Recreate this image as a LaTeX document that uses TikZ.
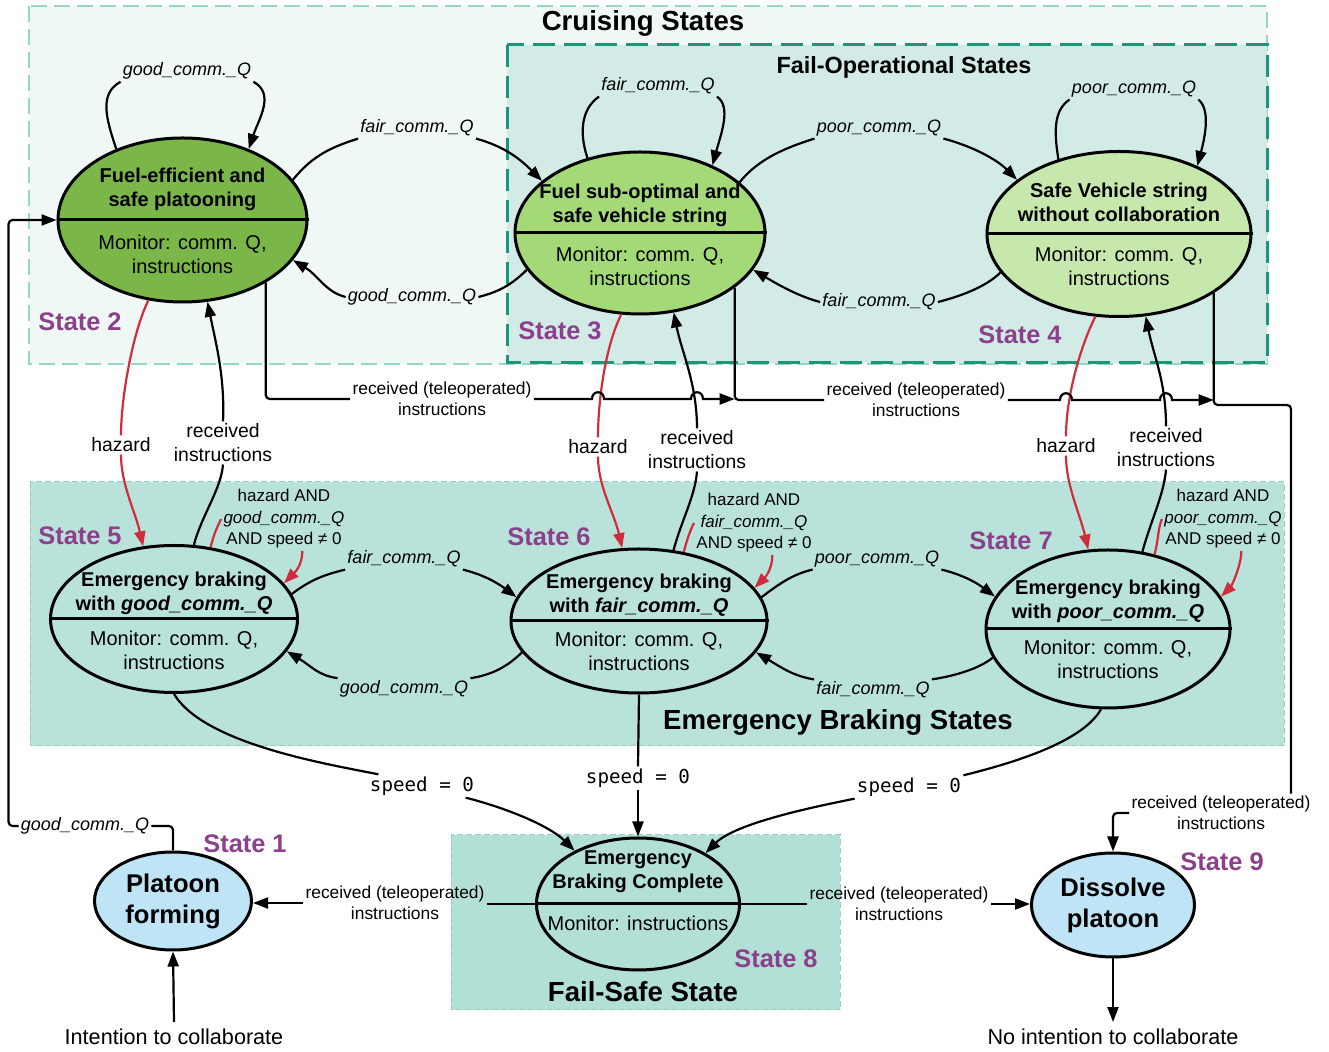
\documentclass[tikz,border=0pt]{standalone}
\usepackage{fontspec}
\setmainfont{Liberation Sans}
\newfontfamily\spdfont{DejaVu Sans Mono}
\usetikzlibrary{shapes,arrows,positioning,calc,arrows.meta}

\definecolor{cruisefill}{RGB}{239,248,245}
\definecolor{cruisedraw}{RGB}{150,214,200}
\definecolor{fopfill}{RGB}{210,235,230}
\definecolor{fopdraw}{RGB}{28,150,120}
\definecolor{ebfill}{RGB}{185,226,218}
\definecolor{ebdraw}{RGB}{150,208,196}
\definecolor{fsfill}{RGB}{179,224,214}
\definecolor{grA}{RGB}{122,182,72}
\definecolor{grB}{RGB}{163,217,119}
\definecolor{grC}{RGB}{199,232,172}
\definecolor{bluA}{RGB}{190,228,246}
\definecolor{hzred}{RGB}{208,45,60}
\definecolor{stpurple}{RGB}{140,64,140}

\begin{document}
\begin{tikzpicture}[x=0.5pt, y=-0.5pt,
	arr/.style={-{Triangle[length=7.5pt,width=5.5pt]},line width=1.1pt},
	line/.style={line width=1.1pt},
	harr/.style={arr,draw=hzred},
	bus/.style={line,rounded corners=2pt},
	divl/.style={line width=1.5pt},
	state/.style={ellipse,draw=black,line width=1.5pt,inner sep=0pt},
	uptxt/.style={font=\fontsize{10}{12}\selectfont\bfseries,align=center,inner sep=0pt},
	lowtxt/.style={font=\fontsize{10}{12}\selectfont,align=center,inner sep=0pt},
	bigst/.style={font=\fontsize{12.8}{15.5}\selectfont\bfseries,align=center},
	comm/.style={font=\fontsize{9}{11}\selectfont\itshape,inner sep=1pt},
	tele/.style={font=\fontsize{8.7}{10.5}\selectfont,align=center,inner sep=1pt},
	recv/.style={font=\fontsize{9.7}{12}\selectfont,align=center,inner sep=1pt},
	cond/.style={font=\fontsize{8.5}{10.75}\selectfont,align=center,inner sep=1pt},
	spd/.style={font=\spdfont\fontsize{9.6}{11}\selectfont,inner sep=1pt},
	stnum/.style={font=\fontsize{12.7}{14}\selectfont\bfseries,text=stpurple},
	zonettl/.style={font=\fontsize{13.8}{16}\selectfont\bfseries},
	bigtxt/.style={font=\fontsize{10.8}{13}\selectfont}]

    \useasboundingbox (0,0) rectangle (1329,1052);

    \draw [fill=cruisefill, draw=cruisedraw, line width=0.7pt, dash pattern=on 8pt off 3.5pt] (29,6) rectangle (1267,364);
    \draw [fill=fopfill, draw=fopdraw, line width=1.5pt, dash pattern=on 11pt off 4.5pt] (507,45) rectangle (1267,363);
    \draw [fill=ebfill, draw=ebdraw, line width=0.5pt, dash pattern=on 3pt off 1.5pt] (30,482) rectangle (1284,746);
    \draw [fill=fsfill, draw=ebdraw, line width=0.5pt, dash pattern=on 3pt off 1.5pt] (451,835) rectangle (840,1010);

    \node (ttlcru) at (643,23) [zonettl] {Cruising States};
    \node (ttlfop) at (904,67) [font=\fontsize{11.7}{14}\selectfont\bfseries] {Fail-Operational States};
    \node (ttleb) at (838,722) [zonettl] {Emergency Braking States};
    \node (ttlfs) at (643,992) [zonettl] {Fail-Safe State};

    \node (s2) at (182.5,220) [state, fill=grA, minimum width=124.5pt, minimum height=82pt] {};
    \draw [divl] (s2.west) -- (s2.east);
    \node (s2up) at (s2.center) [uptxt, yshift=15.5pt] {Fuel-efficient and\\safe platooning};
    \node (s2lo) at (s2.center) [lowtxt, yshift=-17pt] {Monitor: comm. Q,\\instructions};

    \node (s3) at (640,233) [state, fill=grB, minimum width=125pt, minimum height=81pt] {};
    \draw [divl] (s3.west) -- (s3.east);
    \node (s3up) at (s3.center) [uptxt, yshift=13.75pt] {Fuel sub-optimal and\\safe vehicle string};
    \node (s3lo) at (s3.center) [lowtxt, yshift=-16.75pt] {Monitor: comm. Q,\\instructions};

    \node (s4) at (1119,234) [state, fill=grC, minimum width=132pt, minimum height=82.5pt] {};
    \draw [divl] (s4.west) -- (s4.east);
    \node (s4up) at (s4.center) [uptxt, yshift=15.75pt] {Safe Vehicle string\\without collaboration};
    \node (s4lo) at (s4.center) [lowtxt, yshift=-16.25pt] {Monitor: comm. Q,\\instructions};

    \node (s5) at (174,619) [state, minimum width=123.5pt, minimum height=73.5pt] {};
    \draw [divl] (s5.west) -- (s5.east);
    \node (s5up) at (s5.center) [uptxt, yshift=13pt] {Emergency braking\\with \textit{good\_comm.\_Q}};
    \node (s5lo) at (s5.center) [lowtxt, yshift=-15.5pt] {Monitor: comm. Q,\\instructions};

    \node (s6) at (639,621) [state, minimum width=128pt, minimum height=72pt] {};
    \draw [divl] (s6.west) -- (s6.east);
    \node (s6up) at (s6.center) [uptxt, yshift=13pt] {Emergency braking\\with \textit{fair\_comm.\_Q}};
    \node (s6lo) at (s6.center) [lowtxt, yshift=-15pt] {Monitor: comm. Q,\\instructions};

    \node (s7) at (1108,629) [state, minimum width=122pt, minimum height=79pt] {};
    \draw [divl] (s7.west) -- (s7.east);
    \node (s7up) at (s7.center) [uptxt, yshift=14pt] {Emergency braking\\with \textit{poor\_comm.\_Q}};
    \node (s7lo) at (s7.center) [lowtxt, yshift=-15.25pt] {Monitor: comm. Q,\\instructions};

    \node (s8) at (638,904) [state, minimum width=101.5pt, minimum height=66pt] {};
    \draw [divl] (s8.west) -- (s8.east);
    \node (s8up) at (s8.center) [uptxt, yshift=16pt] {Emergency\\Braking Complete};
    \node (s8lo) at (s8.center) [lowtxt, yshift=-9.5pt] {Monitor: instructions};

    \node (s1) at (173,901) [state, fill=bluA, minimum width=78.5pt, minimum height=49pt, bigst] {Platoon\\forming};
    \node (s9) at (1113,905) [state, fill=bluA, minimum width=81.5pt, minimum height=52pt, bigst] {Dissolve\\platoon};

    \node (n1) at (245,844) [stnum] {State 1};
    \node (n2) at (80,322) [stnum] {State 2};
    \node (n3) at (560,331) [stnum] {State 3};
    \node (n4) at (1020,335) [stnum] {State 4};
    \node (n5) at (80,536) [stnum] {State 5};
    \node (n6) at (549,537) [stnum] {State 6};
    \node (n7) at (1011,541) [stnum] {State 7};
    \node (n8) at (776,959) [stnum] {State 8};
    \node (n9) at (1222,862) [stnum] {State 9};

    \node (l22) at (187,71) [comm] {good\_comm.\_Q};
    \node (l33) at (658,86) [comm] {fair\_comm.\_Q};
    \node (l44) at (1134,89) [comm] {poor\_comm.\_Q};
    \node (l23) at (417,128) [comm] {fair\_comm.\_Q};
    \node (l32) at (412,297) [comm] {good\_comm.\_Q};
    \node (l34) at (879,128) [comm] {poor\_comm.\_Q};
    \node (l43) at (879,302) [comm] {fair\_comm.\_Q};
    \node (l56) at (404,559) [comm] {fair\_comm.\_Q};
    \node (l65) at (404,689) [comm] {good\_comm.\_Q};
    \node (l67) at (877,559) [comm] {poor\_comm.\_Q};
    \node (l76) at (873,690) [comm] {fair\_comm.\_Q};
    \node (g12) at (85,826) [comm] {good\_comm.\_Q};

    \node (hz25) at (121,445) [recv] {hazard};
    \node (hz36) at (598,447) [recv] {hazard};
    \node (hz47) at (1066,446) [recv] {hazard};
    \node (ri52) at (223,443) [recv] {received\\instructions};
    \node (ri63) at (697,450) [recv] {received\\instructions};
    \node (ri74) at (1166,448) [recv] {received\\instructions};

    \node (cd5) at (284,519) [cond] {hazard AND\\\textit{good\_comm.\_Q}\\AND speed ≠ 0};
    \node (cd6) at (754,523) [cond] {hazard AND\\\textit{fair\_comm.\_Q}\\AND speed ≠ 0};
    \node (cd7) at (1223,519) [cond] {hazard AND\\\textit{poor\_comm.\_Q}\\AND speed ≠ 0};

    \node (sp58) at (422,786) [spd] {speed = 0};
    \node (sp68) at (638,778) [spd] {speed = 0};
    \node (sp78) at (909,787) [spd] {speed = 0};

    \node (tl2) at (442,399) [tele] {received (teleoperated)\\instructions};
    \node (tl3) at (916,400) [tele] {received (teleoperated)\\instructions};
    \node (tl9) at (1221,813) [tele] {received (teleoperated)\\instructions};
    \node (tl1) at (395,903) [tele] {received (teleoperated)\\instructions};
    \node (tl8) at (899,904) [tele] {received (teleoperated)\\instructions};

    \node (intent) at (174,1037) [bigtxt] {Intention to collaborate};
    \node (nointent) at (1113,1037) [bigtxt] {No intention to collaborate};

    \draw [arr] (s2.133) .. controls +(-10,-30) and +(-22,12) .. (l22.south west) (l22.south east) .. controls +(22,12) and +(10,-30) .. (s2.47);
    \draw [arr] (s3.125) .. controls +(-10,-30) and +(-15,10) .. (l33.south west) (l33.south east) .. controls +(15,10) and +(8,-30) .. (s3.43);
    \draw [arr] (s4.129) .. controls +(-5,-30) and +(-15,10) .. (l44.south west) (l44.south east) .. controls +(12,10) and +(8,-30) .. (s4.41);

    \draw [arr] (s2.20) .. controls +(20,-25) and +(-25,8) .. (l23.south west) (l23.south east) .. controls +(30,8) and +(-20,-20) .. (s3.152);
    \draw [arr] (s3.198) .. controls +(-15,15) and +(20,-5) .. (l32.east) (l32.west) .. controls +(-20,-5) and +(25,15) .. (s2.340);
    \draw [arr] (s3.27) .. controls +(20,-25) and +(-25,8) .. (l34.south west) (l34.south east) .. controls +(30,8) and +(-20,-20) .. (s4.152);
    \draw [arr] (s4.198) .. controls +(-15,15) and +(20,-5) .. (l43.east) (l43.west) .. controls +(-20,-5) and +(25,15) .. (s3.342);

    \draw [arr] (s5.12) .. controls +(20,-15) and +(-20,5) .. (l56.south west) (l56.south east) .. controls +(20,5) and +(-20,-15) .. (s6.169);
    \draw [arr] (s6.195) .. controls +(-15,15) and +(20,-3) .. (l65.north east) (l65.north west) .. controls +(-20,-3) and +(25,15) .. (s5.344);
    \draw [arr] (s6.11) .. controls +(20,-15) and +(-20,5) .. (l67.south west) (l67.south east) .. controls +(20,5) and +(-20,-15) .. (s7.164);
    \draw [arr] (s7.194) .. controls +(-15,12) and +(20,-3) .. (l76.north east) (l76.north west) .. controls +(-20,-3) and +(25,15) .. (s6.345);

    \draw [harr] (s2.247) .. controls +(-15,30) and +(0,-40) .. (hz25.north) (hz25.south) .. controls +(0,30) and +(-8,-35) .. (s5.113);
    \draw [arr] (s5.75) .. controls +(8,-30) and +(-2,25) .. (ri52.south) (ri52.north) .. controls +(2,-45) and +(8,40) .. (s2.287);
    \draw [harr] (s3.257) .. controls +(-15,30) and +(0,-40) .. (hz36.north) (hz36.south) .. controls +(0,30) and +(-8,-35) .. (s6.103);
    \draw [arr] (s6.64) .. controls +(8,-30) and +(-2,25) .. (ri63.south) (ri63.north) .. controls +(0,-45) and +(8,40) .. (s3.293);
    \draw [harr] (s4.254) .. controls +(-15,30) and +(0,-40) .. (hz47.north) (hz47.south) .. controls +(0,30) and +(-8,-35) .. (s7.104);
    \draw [arr] (s7.66) .. controls +(8,-30) and +(-2,25) .. (ri74.south) (ri74.north) .. controls +(0,-45) and +(8,40) .. (s4.288);

    \draw [harr] (s5.63) .. controls +(4,-15) and +(-4,8) .. (cd5.west) (cd5.300) .. controls +(0,15) and +(10,-10) .. (s5.18);
    \draw [harr] (s6.57) .. controls +(4,-15) and +(-4,8) .. (cd6.west) (cd6.300) .. controls +(0,15) and +(10,-10) .. (s6.16);
    \draw [harr] (s7.58) .. controls +(4,-15) and +(-4,8) .. (cd7.west) (cd7.300) .. controls +(0,15) and +(10,-10) .. (s7.16);

    \draw [arr] (s5.south) .. controls +(30,50) and +(-50,-10) .. (sp58.165) (sp58.345) .. controls +(40,10) and +(-25,-25) .. (s8.140);
    \draw [line] (s6.south) -- (sp68.north);
    \draw [arr] (sp68.south) -- (s8.north);
    \draw [arr] (s7.265) .. controls +(-20,35) and +(40,-10) .. (sp78.north east) (sp78.south west) .. controls +(-40,8) and +(30,-30) .. (s8.37);

    \draw [bus] (s2.323) |- (tl2.west);
    \draw [arr] (tl2.east) -- (592,399) .. controls (592,390) and (604,390) .. (604,399) -- (691,399) .. controls (691,390) and (703,390) .. (703,399) -- (s3.330 |- tl2.east);
    \draw [bus] (s3.330) |- (tl3.west);
    \draw [arr] (tl3.east) -- (1060,400) .. controls (1060,391) and (1072,391) .. (1072,400) -- (1160,400) .. controls (1160,391) and (1172,391) .. (1172,400) -- (s4.328 |- tl3.east);
    \coordinate (rgt) at (1291,405);
    \draw [bus] (s4.328) |- (rgt) -- (rgt |- tl9.north);
    \draw [bus,arr] (tl9.west) -| (s9.north);

    \draw [line] (s8.west) -- (s8.west -| tl1.east);
    \draw [arr] (tl1.west) -- (tl1.west -| s1.east);
    \draw [line] (s8.east) -- (s8.east -| tl8.west);
    \draw [arr] (tl8.east) -- (tl8.east -| s9.west);

    \draw [bus] (s1.north) |- (g12.east);
    \draw [bus,arr] (g12.west) -- ++(-10,0) |- (s2.west);
    \draw [arr] (intent.north) -- (s1.south);
    \draw [arr] (s9.south) -- (nointent.north);

\end{tikzpicture}
\end{document}
